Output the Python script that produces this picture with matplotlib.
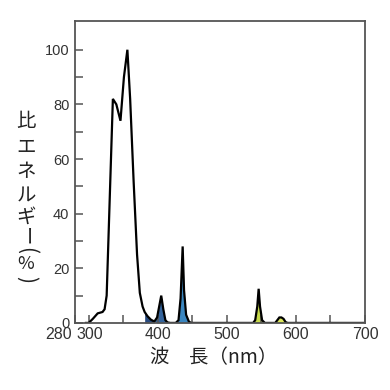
import numpy as np
import matplotlib
matplotlib.use("Agg")
import matplotlib.pyplot as plt
from matplotlib.transforms import ScaledTranslation

plt.rcParams['font.family'] = ['Liberation Sans', 'Noto Sans CJK JP', 'DejaVu Sans']

# Spectrum (wavelength nm, relative energy %)
wavelength = [296, 300, 306, 313, 320, 323, 326, 330, 335, 340, 346, 351, 356, 360, 365, 370,
              374, 378, 381, 385, 390, 395, 399, 402, 405, 408, 411, 414, 418, 426, 430, 433,
              436, 438, 441, 445, 448, 538, 541, 544, 546, 548, 551, 555, 570, 573, 576, 579,
              582, 585, 588, 700]
energy = [0, 0, 1.5, 3.5, 4, 5, 10, 42, 82, 80, 74, 90, 100, 82, 52, 25,
          11, 6, 4, 2.5, 1.2, 0.5, 2, 6, 10, 5, 1, 0.2, 0, 0, 1, 9,
          28, 12, 3, 0.5, 0, 0, 1, 6, 12.5, 6, 1, 0, 0, 1, 2, 2,
          1.5, 0.3, 0, 0]

# Coloured bands under the curve: (start, end, colour)
band_start = [380, 397, 426, 538, 570]
band_end = [397, 418, 448, 555, 588]
band_color = ['#284a7e', '#34649c', '#3a86c0', '#c6d94a', '#dbe75a']

xticks = [280, 300, 400, 500, 600, 700]
yticks = [0, 20, 40, 60, 80, 100]

fig = plt.figure(figsize=(3.9, 3.9), dpi=100)
ax = fig.add_axes([0.192, 0.172, 0.744, 0.774])

wl = np.array(wavelength, dtype=float)
en = np.array(energy, dtype=float)
for s, e, c in zip(band_start, band_end, band_color):
    ax.fill_between(wl, en, 0, where=(wl >= s) & (wl <= e), interpolate=True,
                    color=c, linewidth=0)
ax.plot(wl, en, color='black', lw=1.6, solid_joinstyle='miter')

ax.set_xlim(280, 700)
ax.set_ylim(0, 110.5)
ax.set_xticks(xticks)
ax.set_xticks(np.arange(350, 700, 100), minor=True)
ax.set_yticks(yticks)
ax.set_yticks(np.arange(10, 110, 20), minor=True)
ax.tick_params(which='both', direction='in', length=6, width=1.1, color='#555555',
               labelcolor='#333333')
ax.tick_params(axis='x', labelsize=11.5, pad=3)
ax.tick_params(axis='y', labelsize=10.5, pad=4)
labs = ax.get_xticklabels()
labs[0].set_horizontalalignment('right')
labs[0].set_transform(labs[0].get_transform() +
                      ScaledTranslation(-2.5 / 72, 0, fig.dpi_scale_trans))
labs[1].set_transform(labs[1].get_transform() +
                      ScaledTranslation(1.0 / 72, 0, fig.dpi_scale_trans))
for sp in ax.spines.values():
    sp.set_color('#555555')
    sp.set_linewidth(1.3)

# vertical y label, one character at a time
ychars = ["比", "エ", "ネ", "ル", "ギ", "ー", "(", "%", ")"]
ypos = [122, 147, 172, 196, 217, 237, 250, 264, 280]
yrot = [0, 0, 0, 0, 0, -90, -90, 0, -90]
ysize = [14, 14, 14, 14, 14, 14, 15, 13, 15]
for ch, yp, r, fs in zip(ychars, ypos, yrot, ysize):
    fig.text(26 / 390, 1 - yp / 390, ch, ha='center', va='center', fontsize=fs,
             rotation=r, rotation_mode='anchor', color='#222222',
             family=['Noto Sans CJK JP', 'DejaVu Sans'])

fig.text(214 / 390, 1 - 358 / 390, "波　長（nm）", ha='center', va='center',
         fontsize=14, color='#222222', family=['Noto Sans CJK JP', 'DejaVu Sans'])

fig.savefig("out.png", dpi=100)
